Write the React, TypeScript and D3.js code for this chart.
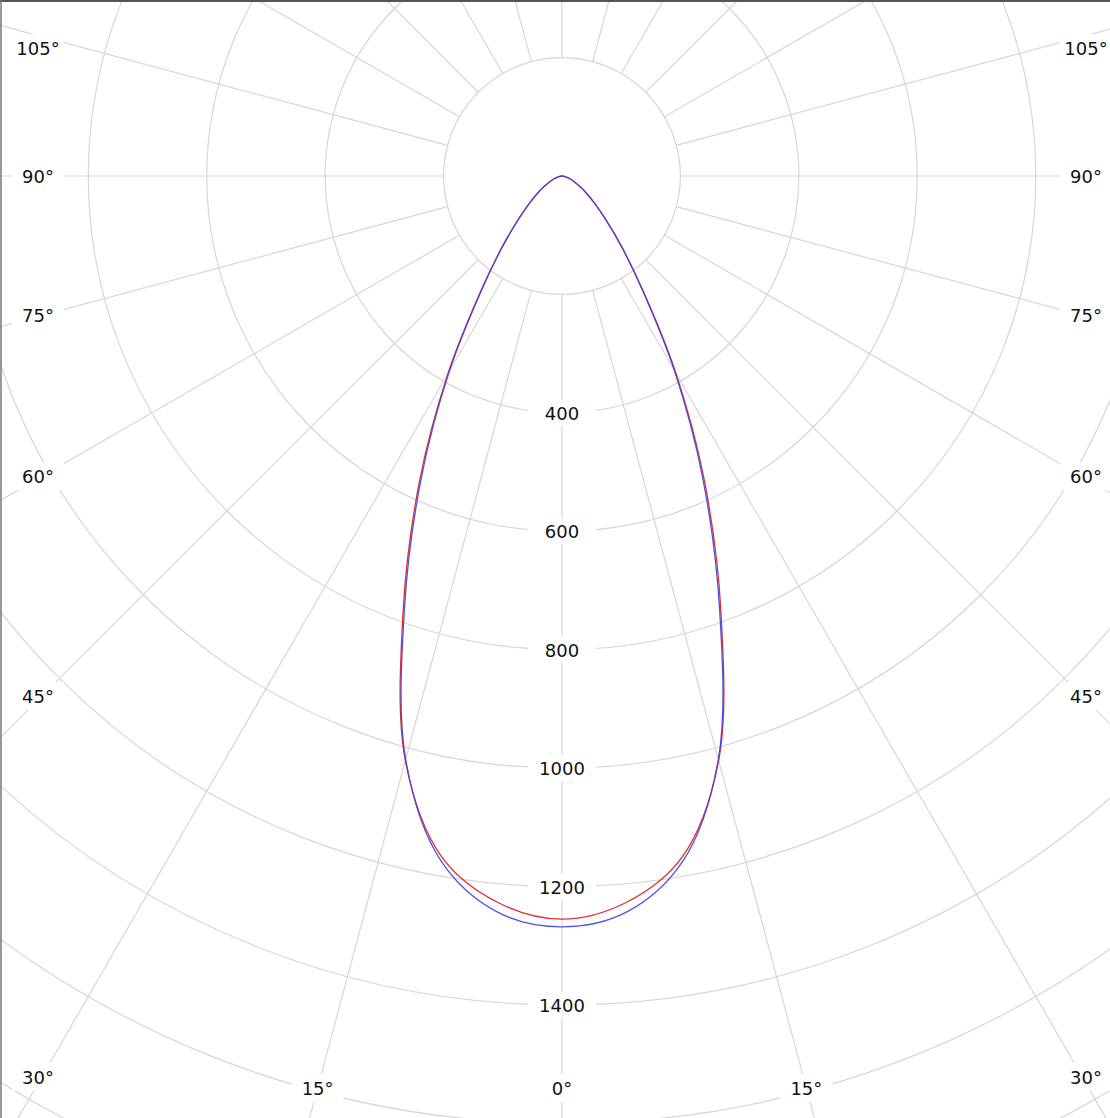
import * as d3 from "d3";

const GAMMA = [0, 5, 10, 15, 20, 25, 30, 35, 40, 45, 50, 55, 60, 70, 80, 90];
const RED = [1255, 1232, 1168, 1022, 785, 570, 385, 242, 158, 105, 72, 50, 34, 15, 5, 0];
const BLUE = [1268, 1248, 1175, 1020, 778, 562, 380, 240, 158, 105, 72, 50, 34, 15, 5, 0];
const RINGS = [200, 400, 600, 800, 1000, 1200, 1400, 1600, 1800, 2000];
const RING_LABELS = [400, 600, 800, 1000, 1200, 1400];
const SPOKES = d3.range(-180, 180, 15);
const ANGLE_LABELS = [0, 15, 30, 45, 60, 75, 90, 105];

const W = 1110, H = 1118, CX = 562, CY = 176;
const r = d3.scaleLinear().domain([0, 1400]).range([0, 829]);

function curvePath(vals: number[]) {
  const pts: [number, number][] = [];
  for (let i = GAMMA.length - 1; i >= 0; i--) pts.push([Math.PI - (GAMMA[i] * Math.PI) / 180, r(vals[i])]);
  for (let i = 1; i < GAMMA.length; i++) pts.push([Math.PI + (GAMMA[i] * Math.PI) / 180, r(vals[i])]);
  return d3.lineRadial().curve(d3.curveCatmullRom.alpha(0.5))(pts) ?? "";
}

function labelPos(g: number, side: number): [number, number] {
  const t = (g * Math.PI) / 180;
  const dx = Math.sin(t), dy = Math.cos(t);
  const half = CX - 42;
  if (dx === 0) return [CX, 1088];
  const k = half / dx;
  const y = CY + dy * k;
  if (y > 1088) {
    const kb = (1088 - CY) / dy;
    const x = CX + side * dx * kb;
    return [Math.abs(x - CX) > half - 10 ? CX + side * (half + 4) : x, 1088];
  }
  return [CX + side * (half + 4), Math.max(48, y)];
}

export default function App() {
  const font = "Tahoma, 'DejaVu Sans', sans-serif";
  const labels: { x: number; y: number; t: string }[] = [];
  ANGLE_LABELS.forEach((g) => {
    const sides = g === 0 ? [1] : [-1, 1];
    sides.forEach((s) => {
      const [x, y] = labelPos(g, s);
      labels.push({ x, y, t: `${g}°` });
    });
  });
  return (
    <svg width={W} height={H} style={{ position: "absolute", left: 0, top: 0, background: "#fff" }}>
      <defs>
        <clipPath id="c"><rect x={0} y={0} width={W} height={H} /></clipPath>
      </defs>
      <g clipPath="url(#c)">
        {RINGS.map((v) => (
          <circle key={v} cx={CX} cy={CY} r={r(v)} fill="none" stroke="#d6d6d6" strokeWidth={1.2} />
        ))}
        {SPOKES.map((a) => {
          const t = (a * Math.PI) / 180;
          return (
            <line key={a} x1={CX + Math.sin(t) * r(200)} y1={CY + Math.cos(t) * r(200)}
              x2={CX + Math.sin(t) * 2000} y2={CY + Math.cos(t) * 2000} stroke="#d6d6d6" strokeWidth={1.2} />
          );
        })}
        {RING_LABELS.map((v) => (
          <g key={v}>
            <rect x={CX - 34} y={CY + r(v) - 13} width={68} height={26} fill="#fff" />
            <text x={CX} y={CY + r(v) + 7} textAnchor="middle" fontFamily={font} fontSize={18} fill="#111">{v}</text>
          </g>
        ))}
        <path d={curvePath(RED)} transform={`translate(${CX},${CY})`} fill="none" stroke="#e03030" strokeWidth={1.3} />
        <path d={curvePath(BLUE)} transform={`translate(${CX},${CY})`} fill="none" stroke="#4040e0" strokeWidth={1.3} opacity={0.9} />
        {labels.map((l, i) => (
          <g key={i}>
            <rect x={l.x - 26} y={l.y - 14} width={52} height={28} fill="#fff" />
            <text x={l.x} y={l.y + 7} textAnchor="middle" fontFamily={font} fontSize={18} fill="#111">{l.t}</text>
          </g>
        ))}
      </g>
      <line x1={0} y1={1} x2={W} y2={1} stroke="#555" strokeWidth={2} />
      <line x1={1} y1={0} x2={1} y2={H} stroke="#777" strokeWidth={1.5} />
    </svg>
  );
}
